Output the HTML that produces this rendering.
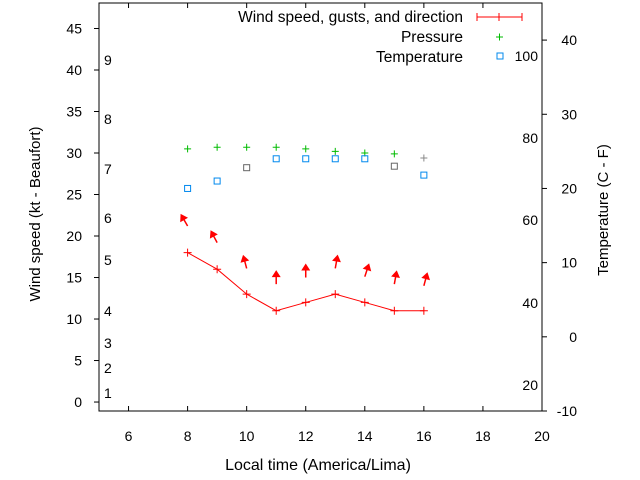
<!DOCTYPE html>
<html><head><meta charset="utf-8"><style>
body{margin:0;background:#fff}
svg{display:block;font-family:"Liberation Sans",sans-serif;font-size:14px}
.big{font-size:15.5px}
</style></head><body>
<svg id="c" width="640" height="480" xmlns="http://www.w3.org/2000/svg"></svg>
<script>
const hours=[8,9,10,11,12,13,14,15,16];
const wind=[18,16,13,11,12,13,12,11,11];
const gustTail=[21.2,19.2,16.1,14.2,15,16.1,15.1,14.2,14.0];
const dirDeg=[-30,-28,-15,0,0,10,18,10,15];
const pressure=[30.5,30.7,30.7,30.7,30.5,30.2,30,29.9,29.4];
const pressureGrey=[false,false,false,false,false,false,false,false,true];
const temp=[20,21,22.8,24,24,24,24,23,21.8];
const tempGrey=[false,false,true,false,false,false,false,true,false];
const xTicks=[6,8,10,12,14,16,18,20];
const yTicks=[0,5,10,15,20,25,30,35,40,45];
const y2Ticks=[-10,0,10,20,30,40];
const beaufort=[[1,393],[2,368],[3,343],[4,311],[5,260],[6,218],[7,169],[8,119],[9,60]];
const fahr=[[20,385],[40,303],[60,220],[80,138],[100,56]];
const L=99,R=542,T=3,B=411;
const X=v=>L+(v-5)/(20-5)*(R-L);
const Y=v=>B-(v+1.08)/(48.07+1.08)*(B-T);
const Y2=v=>B-(v+10)/(45+10)*(B-T);
const svg=document.getElementById('c');
function el(t,a,txt){const e=document.createElementNS('http://www.w3.org/2000/svg',t);for(const k in a)e.setAttribute(k,a[k]);if(txt!==undefined)e.textContent=txt;svg.appendChild(e);return e;}
let e=el('rect',{x:L,y:T,width:R-L,height:B-T,fill:'none',stroke:'#000'});

xTicks.forEach(v=>{const x=X(v);
 el('line',{x1:x,x2:x,y1:B,y2:B-5,stroke:'#000'});el('line',{x1:x,x2:x,y1:T,y2:T+5,stroke:'#000'});
 const t=el('text',{x:x,y:B+30,'text-anchor':'middle'},v);});
yTicks.forEach(v=>{const y=Y(v);el('line',{x1:L-5,x2:L,y1:y,y2:y,stroke:'#000'});
 const t=el('text',{x:82,y:y+5,'text-anchor':'end'},v);});
y2Ticks.forEach(v=>{const y=Y2(v);el('line',{x1:R,x2:R+5,y1:y,y2:y,stroke:'#000'});
 const t=el('text',{x:577,y:y+5,'text-anchor':'end'},v);});
beaufort.forEach(b=>{const t=el('text',{x:104,y:b[1]+5},b[0]);});
fahr.forEach(f=>{const t=el('text',{x:538,y:f[1]+5,'text-anchor':'end'},f[0]);});
e=el('text',{x:318,y:470,'text-anchor':'middle','font-size':'16px'},'Local time (America/Lima)');
e=el('text',{x:40,y:214,'text-anchor':'middle','font-size':'15px',transform:'rotate(-90 40 214)'},'Wind speed (kt - Beaufort)');
e=el('text',{x:608,y:210,'text-anchor':'middle','font-size':'15px',transform:'rotate(-90 608 210)'},'Temperature (C - F)');
e=el('polyline',{points:hours.map((h,i)=>X(h)+','+Y(wind[i])).join(' '),fill:'none',stroke:'#f00'});

hours.forEach((h,i)=>{const x=X(h),y=Y(wind[i]);
 e=el('path',{d:`M${x-4},${y}H${x+4}M${x},${y-4}V${y+4}`,stroke:'#f00'});
 const tx=x,ty=Y(gustTail[i]),a=dirDeg[i]*Math.PI/180,len=12;
 const hx=tx+len*Math.sin(a),hy=ty-len*Math.cos(a);
 e=el('line',{x1:tx,y1:ty,x2:hx,y2:hy,stroke:'#f00','stroke-width':1.5});
 const ux=Math.sin(a),uy=-Math.cos(a),px=-uy,py=ux;
 e=el('polygon',{points:`${hx+ux*2},${hy+uy*2} ${hx-ux*5+px*4.5},${hy-uy*5+py*4.5} ${hx-ux*5-px*4.5},${hy-uy*5-py*4.5}`,fill:'#f00'});
});
hours.forEach((h,i)=>{const x=X(h),y=Y(pressure[i]);
 e=el('path',{d:`M${x-3.5},${y}H${x+3.5}M${x},${y-3.5}V${y+3.5}`,stroke:pressureGrey[i]?'#888':'#0b0'});});
hours.forEach((h,i)=>{const x=X(h),y=Y2(temp[i]);
 e=el('rect',{x:x-3,y:y-3,width:6,height:6,fill:'none',stroke:tempGrey[i]?'#666':'#08e'});});
e=el('text',{x:463,y:22,'text-anchor':'end',class:'big'},'Wind speed, gusts, and direction');
el('path',{d:'M477,17H522M477,13V21M522,13V21M499,13V21',stroke:'#f00'});
e=el('text',{x:463,y:42,'text-anchor':'end',class:'big'},'Pressure');
el('path',{d:'M496,37H503M499.5,33.5V40.5',stroke:'#0b0'});
e=el('text',{x:463,y:62,'text-anchor':'end',class:'big'},'Temperature');
el('rect',{x:497,y:53,width:6,height:6,fill:'none',stroke:'#08e'});
</script>
</body></html>
